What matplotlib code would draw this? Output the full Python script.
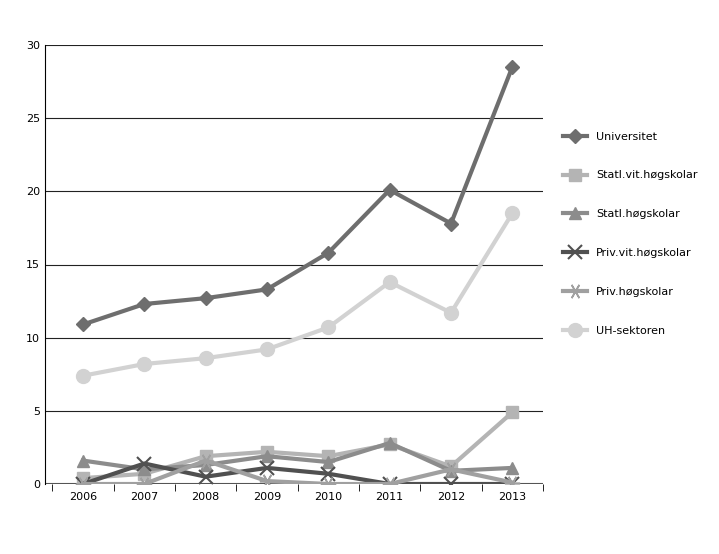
import matplotlib
matplotlib.use("Agg")
import matplotlib.pyplot as plt

years = ["2006","2007","2008","2009","2010","2011","2012","2013"]
universitet = [10.9, 12.3, 12.7, 13.3, 15.8, 20.1, 17.8, 28.5]
statl_vit = [0.4, 0.7, 1.9, 2.2, 1.9, 2.7, 1.2, 4.9]
statl_hog = [1.6, 1.0, 1.3, 1.9, 1.5, 2.8, 0.9, 1.1]
priv_vit = [0.0, 1.4, 0.5, 1.1, 0.7, 0.0, 0.0, 0.0]
priv_hog = [0.0, 0.0, 1.6, 0.2, 0.0, 0.0, 1.0, 0.1]
uh = [7.4, 8.2, 8.6, 9.2, 10.7, 13.8, 11.7, 18.5]

series = [
    ("Universitet", universitet, "#6e6e6e", "D", 7),
    ("Statl.vit.høgskolar", statl_vit, "#b4b4b4", "s", 9),
    ("Statl.høgskolar", statl_hog, "#8c8c8c", "^", 9),
    ("Priv.vit.høgskolar", priv_vit, "#505050", "x", 10),
    ("Priv.høgskolar", priv_hog, "#a0a0a0", "*", 0),
    ("UH-sektoren", uh, "#d2d2d2", "o", 10),
]

fig = plt.figure(figsize=(7.19, 5.54), dpi=100)
ax = fig.add_axes([45/719, 70/554, 498/719, 439/554])
x = list(range(len(years)))
for name, vals, c, m, ms in series:
    if m == "*":
        ax.plot(x, vals, color=c, lw=3, marker=(6, 2, 90), ms=11, mew=1.2, mec=c, label=name)
    elif m == "x":
        ax.plot(x, vals, color=c, lw=3, marker="x", ms=ms, mew=1.5, label=name)
    else:
        ax.plot(x, vals, color=c, lw=3, marker=m, ms=ms, mec=c, label=name)

ax.set_xlim(-0.62, 7.4)
ax.set_ylim(0, 30)
ax.set_yticks(range(0, 31, 5))
ax.set_xticks(x)
ax.set_xticklabels(years)
ax.set_xticks([i + 0.5 for i in range(-1, 8)], minor=True)
ax.tick_params(axis="x", which="major", length=0, labelsize=8, pad=6)
ax.tick_params(axis="x", which="minor", length=5)
ax.tick_params(axis="y", labelsize=8, length=0)
for y in range(5, 31, 5):
    ax.axhline(y, color="#222222", lw=0.8, zorder=0)
ax.axhline(0, color="#555555", lw=1.5, zorder=0)
for s in ["top", "right"]:
    ax.spines[s].set_visible(False)
ax.spines["bottom"].set_visible(False)
ax.legend(loc="center left", bbox_to_anchor=(1.02, 0.57), frameon=False,
          fontsize=8, labelspacing=2.6, handlelength=2.2)
fig.savefig("out.png", dpi=100)
